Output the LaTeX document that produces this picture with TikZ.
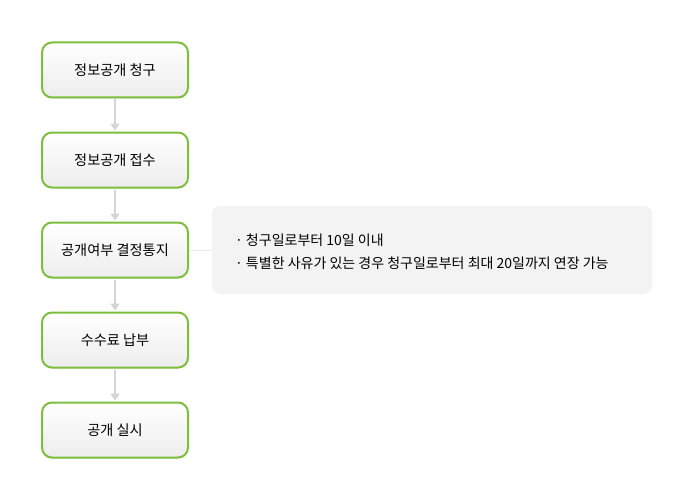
\documentclass[tikz,border=0pt]{standalone}
\usepackage{fontspec}
\setmainfont{Noto Sans CJK KR}
\usetikzlibrary{arrows.meta,shadows}

\definecolor{stepgreen}{HTML}{7DBE3C}
\definecolor{linkgray}{HTML}{D4D4D4}
\definecolor{notegray}{HTML}{F3F3F3}

\tikzset{
  stepbox/.style={draw=stepgreen, line width=2pt, rounded corners=10pt,
    top color=white, bottom color=black!7,
    minimum width=146pt, minimum height=55pt,
    font=\fontsize{14.2}{16}\selectfont,
    drop shadow={shadow xshift=0pt, shadow yshift=-1.5pt, opacity=0.12}},
  steplink/.style={draw=linkgray, line width=1.5pt, shorten <=1pt, shorten >=1pt,
    -{Triangle[width=9pt,length=7pt]}},
  notebox/.style={fill=notegray, rounded corners=8pt,
    minimum width=440pt, minimum height=88pt},
  notelink/.style={draw=black!8, line width=1pt},
  notetext/.style={anchor=west, inner sep=0pt, font=\fontsize{14}{16}\selectfont}
}

\begin{document}
\begin{tikzpicture}[x=1pt, y=-1pt]

\def\xs{115}; % step column
\def\dy{90}; % step spacing

\useasboundingbox (0,0) rectangle (692,500);

% steps
\node[stepbox] (s1) at (\xs, 70) {정보공개 청구};
\node[stepbox] (s2) at (\xs, 70+\dy) {정보공개 접수};
\node[stepbox] (s3) at (\xs, 70+2*\dy) {공개여부 결정통지};
\node[stepbox] (s4) at (\xs, 70+3*\dy) {수수료 납부};
\node[stepbox] (s5) at (\xs, 70+4*\dy) {공개 실시};

\draw[steplink] (s1.south) -- (s2.north);
\draw[steplink] (s2.south) -- (s3.north);
\draw[steplink] (s3.south) -- (s4.north);
\draw[steplink] (s4.south) -- (s5.north);

% note
\node[notebox] (note) at (432, 250) {};
\draw[notelink] (s3.east) -- (note.west);

\node[notetext] (n1) at ([xshift=23pt, yshift=10pt]note.west) {· 청구일로부터 10일 이내};
\node[notetext] (n2) at ([xshift=23pt, yshift=-13pt]note.west) {· 특별한 사유가 있는 경우 청구일로부터 최대 20일까지 연장 가능};

\end{tikzpicture}
\end{document}
